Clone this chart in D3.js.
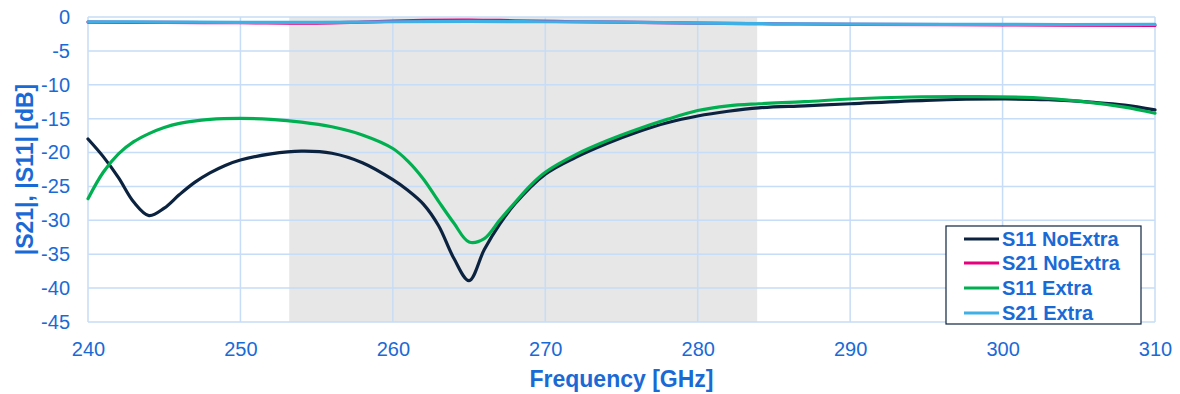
<!DOCTYPE html>
<html>
<head>
<meta charset="utf-8">
<script src="https://cdn.jsdelivr.net/npm/d3@7"></script>
<style>
  html, body { margin: 0; padding: 0; background: #fff; }
  svg { display: block; font-family: "Liberation Sans", Arial, sans-serif; }
</style>
</head>
<body>
<svg id="chart" width="1180" height="394"></svg>
<script>
// ---- data ----
const xTicks = [240, 250, 260, 270, 280, 290, 300, 310];
const yTicks = [0, -5, -10, -15, -20, -25, -30, -35, -40, -45];
const shadeBand = [253.2, 283.9];

const s11NoExtraFreq = [240, 241, 242, 243, 244, 245, 246, 247, 248, 249, 250, 252, 254, 256, 258, 260, 261, 262, 263, 264, 265, 266, 267, 268, 270, 272, 274, 276, 278, 280, 282, 284, 287, 290, 295, 300, 303, 306, 308, 310];
const s11NoExtraDb   = [-18, -20.6, -23.7, -27.3, -29.3, -28.2, -26.2, -24.4, -23.0, -21.9, -21.1, -20.2, -19.8, -20.1, -21.5, -24.0, -25.6, -27.6, -30.8, -35.6, -38.9, -34.3, -30.6, -27.6, -23.2, -20.7, -18.7, -17.0, -15.6, -14.6, -13.9, -13.4, -13.1, -12.8, -12.3, -12.1, -12.2, -12.6, -13.0, -13.7];

const s11ExtraFreq = [240, 241, 242, 243, 244, 245, 246, 248, 250, 252, 254, 256, 258, 260, 261, 262, 263, 264, 265, 266, 267, 268, 269, 270, 272, 274, 276, 278, 280, 282, 284, 287, 290, 294, 298, 302, 305, 308, 310];
const s11ExtraDb   = [-26.8, -22.9, -20.2, -18.4, -17.2, -16.3, -15.7, -15.1, -14.95, -15.1, -15.5, -16.2, -17.4, -19.4, -21.3, -23.9, -27.2, -30.4, -33.2, -32.7, -30.0, -27.4, -24.9, -22.9, -20.3, -18.3, -16.6, -15.1, -13.8, -13.1, -12.8, -12.5, -12.1, -11.8, -11.75, -11.9, -12.4, -13.3, -14.2];

const s21NoExtraFreq = [240, 245, 250, 255, 258, 262, 265, 268, 272, 276, 280, 285, 290, 300, 310];
const s21NoExtraDb   = [-0.75, -0.8, -0.85, -0.9, -0.75, -0.5, -0.45, -0.55, -0.7, -0.8, -0.9, -1.0, -1.1, -1.15, -1.25];

const s21ExtraFreq = [240, 245, 250, 255, 260, 265, 270, 275, 280, 285, 290, 300, 310];
const s21ExtraDb   = [-0.7, -0.75, -0.8, -0.8, -0.7, -0.65, -0.7, -0.75, -0.9, -1.0, -1.05, -1.1, -1.1];

const seriesNames = ["S11 NoExtra", "S21 NoExtra", "S11 Extra", "S21 Extra"];
const seriesColors = ["#0c2340", "#e6007e", "#00b050", "#3fb0e6"];

// ---- layout ----
const svg = d3.select("#chart");
const L = 88, R = 1155, T = 17, B = 322;
const textBlue = "#1a6ad6";
const gridColor = "#c7dcf6";

const x = d3.scaleLinear().domain([240, 310]).range([L, R]);
const y = d3.scaleLinear().domain([-45, 0]).range([B, T]);

// shaded band
svg.append("rect")
  .attr("x", x(shadeBand[0])).attr("y", T)
  .attr("width", x(shadeBand[1]) - x(shadeBand[0]))
  .attr("height", B - T)
  .attr("fill", "#e7e7e7");

// grid
svg.append("g").selectAll("line").data(yTicks).join("line")
  .attr("x1", L).attr("x2", R)
  .attr("y1", d => y(d)).attr("y2", d => y(d))
  .attr("stroke", gridColor).attr("stroke-width", 1.5);
svg.append("g").selectAll("line").data(xTicks).join("line")
  .attr("y1", T).attr("y2", B)
  .attr("x1", d => x(d)).attr("x2", d => x(d))
  .attr("stroke", gridColor).attr("stroke-width", 1.5);

// axes (labels only)
const fmt = d => String(d);
const yAxis = svg.append("g").attr("transform", `translate(${L},0)`)
  .call(d3.axisLeft(y).tickValues(yTicks).tickSize(0).tickPadding(18).tickFormat(fmt));
const xAxis = svg.append("g").attr("transform", `translate(0,${B})`)
  .call(d3.axisBottom(x).tickValues(xTicks).tickSize(0).tickPadding(20).tickFormat(fmt));
[yAxis, xAxis].forEach(a => {
  a.select(".domain").remove();
  a.selectAll("text").attr("fill", textBlue).style("font-size", "20px")
    .style("font-family", "'Liberation Sans', Arial, sans-serif");
});

// axis titles
svg.append("text")
  .attr("x", (L + R) / 2).attr("y", 387)
  .attr("text-anchor", "middle")
  .attr("fill", textBlue).style("font-size", "23px").style("font-weight", "bold")
  .text("Frequency [GHz]");
svg.append("text")
  .attr("transform", `translate(33,${(T + B) / 2}) rotate(-90)`)
  .attr("text-anchor", "middle")
  .attr("fill", textBlue).style("font-size", "23px").style("font-weight", "bold")
  .text("|S21|, |S11| [dB]");

// lines
const line = d3.line().x(d => x(d[0])).y(d => y(d[1])).curve(d3.curveCatmullRom.alpha(0.5));
const seriesData = [
  d3.zip(s11NoExtraFreq, s11NoExtraDb),
  d3.zip(s21NoExtraFreq, s21NoExtraDb),
  d3.zip(s11ExtraFreq, s11ExtraDb),
  d3.zip(s21ExtraFreq, s21ExtraDb)
];
const drawOrder = [0, 2, 1, 3];
drawOrder.forEach(i => {
  svg.append("path")
    .datum(seriesData[i])
    .attr("d", line)
    .attr("fill", "none")
    .attr("stroke", seriesColors[i])
    .attr("stroke-width", 3.2)
    .attr("stroke-linejoin", "round")
    .attr("stroke-linecap", "round");
});

// legend
const lg = svg.append("g");
lg.append("rect")
  .attr("x", 946).attr("y", 226).attr("width", 195).attr("height", 98)
  .attr("fill", "#fff").attr("stroke", "#0c2340").attr("stroke-width", 1.2);
const rowY = [239, 263, 288, 313];
seriesNames.forEach((name, i) => {
  lg.append("line")
    .attr("x1", 964).attr("x2", 999)
    .attr("y1", rowY[i]).attr("y2", rowY[i])
    .attr("stroke", seriesColors[i]).attr("stroke-width", 3.2);
  lg.append("text")
    .attr("x", 1002).attr("y", rowY[i]).attr("dy", "0.36em")
    .attr("fill", textBlue).style("font-size", "20px").style("font-weight", "bold")
    .text(name);
});
</script>
</body>
</html>
